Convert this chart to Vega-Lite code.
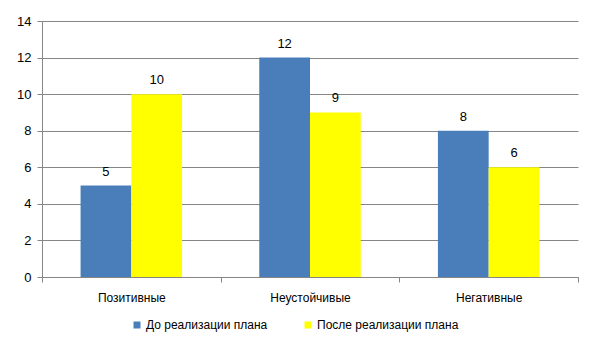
{
  "$schema": "https://vega.github.io/schema/vega-lite/v6.json",
  "width": 536,
  "height": 256,
  "autosize": "none",
  "padding": {"left": 42, "top": 21, "right": 22, "bottom": 74},
  "background": "white",
  "config": {
    "view": {"stroke": null},
    "font": "Liberation Sans",
    "axis": {"labelFont": "Liberation Sans", "labelColor": "black", "domainColor": "#868686", "tickColor": "#868686", "gridColor": "#868686", "title": null}
  },
  "data": {
    "values": [
      {"category": "Позитивные", "series": "До реализации плана", "value": 5},
      {"category": "Позитивные", "series": "После реализации плана", "value": 10},
      {"category": "Неустойчивые", "series": "До реализации плана", "value": 12},
      {"category": "Неустойчивые", "series": "После реализации плана", "value": 9},
      {"category": "Негативные", "series": "До реализации плана", "value": 8},
      {"category": "Негативные", "series": "После реализации плана", "value": 6}
    ]
  },
  "encoding": {
    "x": {
      "field": "category", "type": "nominal", "sort": null,
      "scale": {"paddingInner": 0, "paddingOuter": 0},
      "axis": {"labelAngle": 0, "tickBand": "extent", "tickSize": 5, "labelFontSize": 12, "labelPadding": 10, "grid": false}
    },
    "xOffset": {
      "field": "series", "type": "nominal", "sort": null,
      "scale": {"paddingInner": 0, "paddingOuter": 0.76}
    },
    "y": {
      "field": "value", "type": "quantitative",
      "scale": {"domain": [0, 14]},
      "axis": {"values": [0, 2, 4, 6, 8, 10, 12, 14], "tickSize": 5, "labelFontSize": 13, "labelPadding": 6, "grid": true, "domain": true}
    }
  },
  "layer": [
    {
      "mark": {"type": "bar"},
      "encoding": {
        "color": {
          "field": "series", "type": "nominal", "sort": null,
          "scale": {"range": ["#4a7ebb", "#ffff00"]},
          "legend": {
            "title": null, "orient": "none", "direction": "horizontal",
            "legendX": 89, "legendY": 298, "symbolType": "square", "symbolSize": 49,
            "symbolStrokeWidth": 0, "labelFontSize": 12, "labelFont": "Liberation Sans",
            "labelOffset": 3, "columnPadding": 34
          }
        }
      }
    },
    {
      "mark": {"type": "text", "baseline": "bottom", "dy": -7, "fontSize": 13, "font": "Liberation Sans", "color": "black"},
      "encoding": {"text": {"field": "value", "type": "quantitative"}}
    }
  ]
}
